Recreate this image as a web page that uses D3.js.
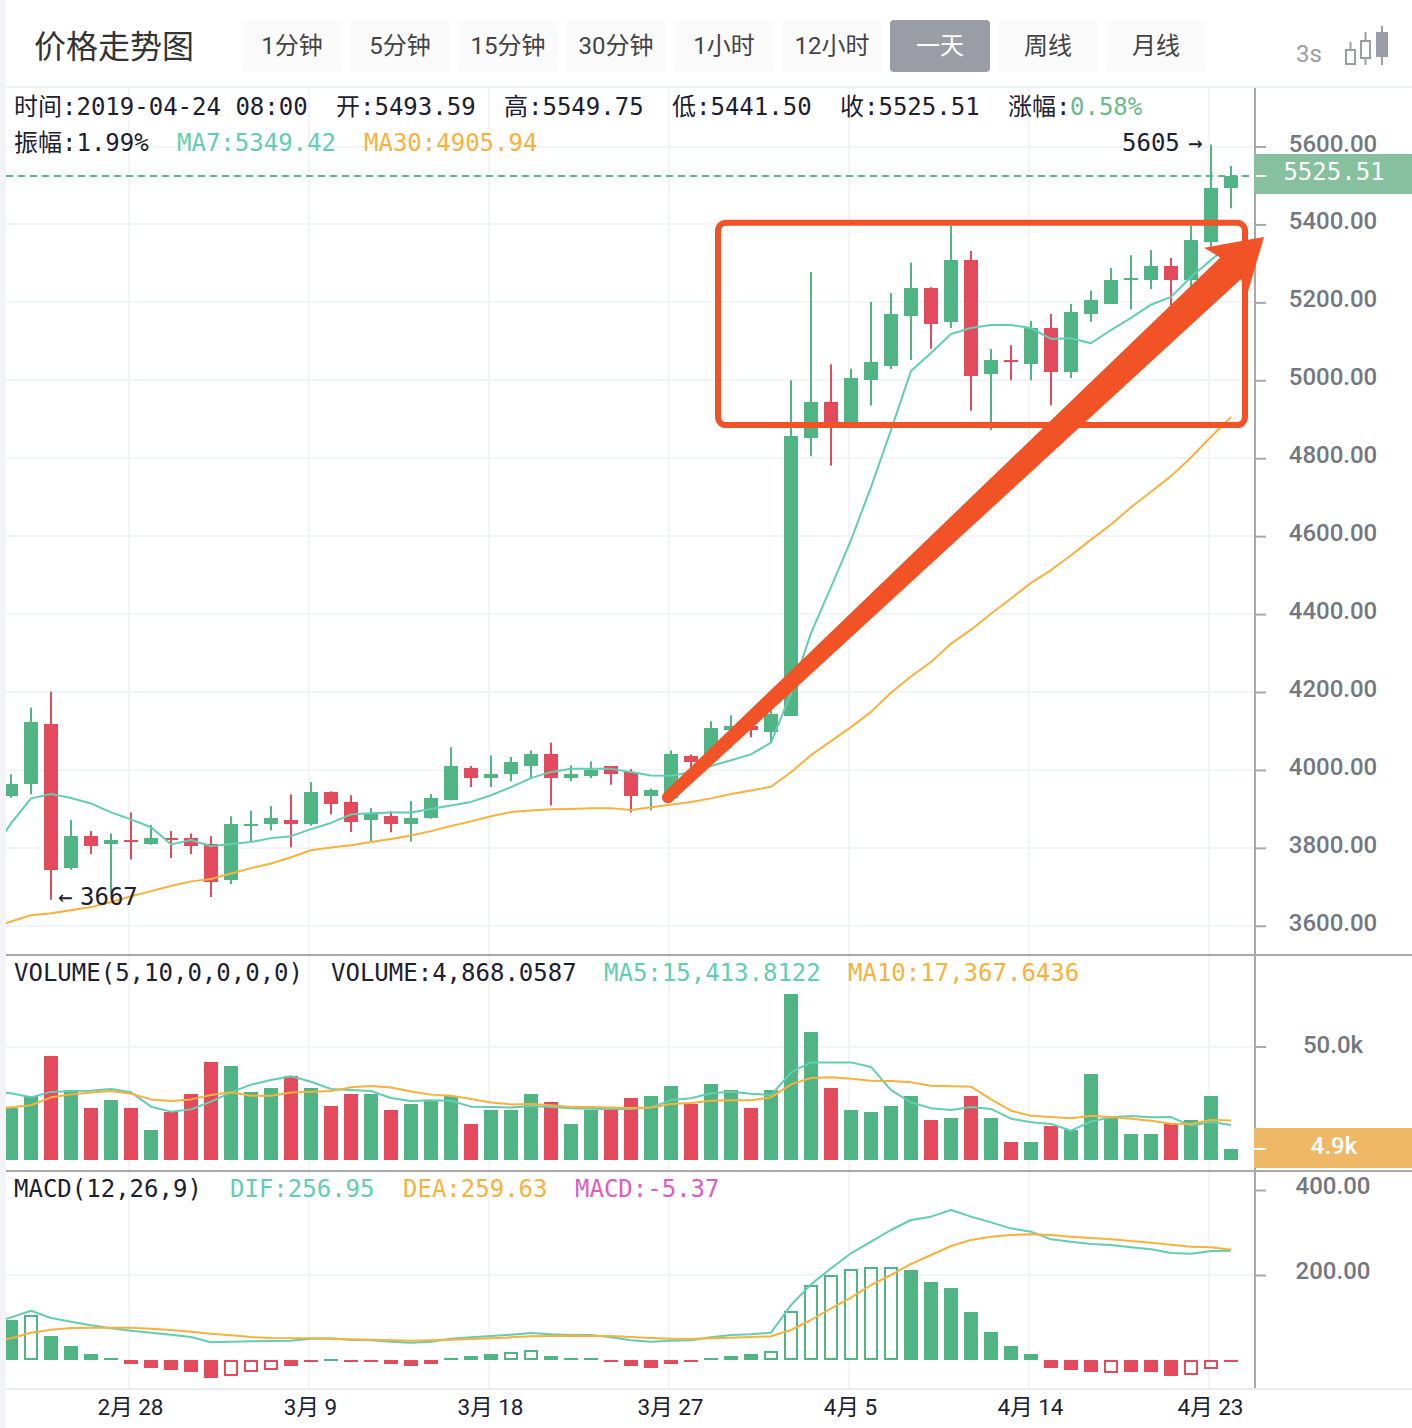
<!DOCTYPE html>
<html><head><meta charset="utf-8">
<script src="https://cdn.jsdelivr.net/npm/d3@7"></script>
<style>
html,body{margin:0;padding:0;background:#fff}
svg{display:block}
.mono{font-family:"DejaVu Sans Mono","Noto Sans CJK SC",monospace;font-size:24px;fill:#1c2030}
.sans{font-family:Roboto,"Noto Sans CJK SC",sans-serif}
</style></head><body><svg id="c" width="1412" height="1428"></svg>
<script>
// ---------- data ----------
const opens=[3932,3963,4117,3748,3830,3809,3820,3809,3825,3825,3809,3717,3855,3861,3871,3861,3943,3917,3871,3881,3861,3876,3922,4004,3979,3989,4010,4040,3979,3984,4010,3994,3932,3927,4035,4035,4102,4112,4097,4138,4852,4944,4893,5000,5036,5165,5237,5149,5309,5016,5052,5042,5134,5021,5170,5196,5257,5257,5293,5257,5355,5493.59];
const closes=[3963,4122,3743,3830,3804,3820,3814,3825,3820,3804,3712,3861,3861,3876,3861,3943,3912,3866,3886,3861,3876,3927,4010,3979,3989,4020,4040,3979,3989,3999,3989,3932,3948,4040,4020,4107,4112,4102,4143,4857,4944,4893,5006,5047,5170,5237,5144,5309,5011,5052,5047,5134,5021,5175,5206,5257,5262,5293,5257,5360,5493.59,5525.51];
const highs=[3989,4160,4201,3871,3843,3837,3891,3859,3843,3837,3830,3881,3895,3907,3937,3969,3945,3935,3902,3894,3920,3938,4058,4010,4037,4033,4050,4070,4012,4022,4010,4002,3952,4050,4040,4125,4140,4128,4158,5000,5278,5041,5030,5201,5224,5302,5239,5396,5332,5080,5090,5152,5170,5196,5230,5288,5321,5334,5314,5396,5605,5549.75];
const lows=[3929,3938,3667,3744,3784,3683,3770,3808,3774,3784,3674,3707,3816,3845,3801,3857,3886,3841,3816,3840,3816,3875,3922,3956,3956,3971,3979,3909,3971,3979,3962,3891,3896,3922,4004,4025,4056,4084,4071,4138,4805,4781,4889,4935,5029,5052,5081,5134,4922,4872,5000,5000,4936,5006,5150,5196,5182,5234,5193,5239,5334,5441.5];
const volumes=[22.9,28.2,45.8,30.8,22.9,26.4,22.9,13.2,21.1,29.1,43.2,41.4,30,31.7,37,31.7,23.8,29.1,29.1,22,24.7,26.4,28.2,15.9,22,22,29.1,25.6,15.9,22,22,27.3,28.2,32.6,24.7,33.5,30.8,22.9,30.8,73.1,56.4,31.7,22,21.1,23.8,28.2,17.6,18.5,28.2,18.5,7.9,7.9,15,13.2,37.9,18.5,11.5,11.5,15.9,17.6,28.2,4.868];
// the line series start one day before the first visible candle
const ma7=[3786,3863,3927,3938,3928,3914,3891,3873,3853,3809,3820,3804,3810,3815,3825,3830,3848,3864,3886,3889,3891,3891,3900,3909,3918,3935,3956,3979,3995,4003,4003,4003,3995,3986,3985,3994,4010,4025,4040,4070,4197,4351,4469,4590,4726,4872,5024,5070,5119,5134,5142,5142,5134,5106,5108,5095,5129,5160,5194,5214,5265,5309,5349.42];
const ma30=[3593,3611,3627,3632,3640,3648,3661,3676,3689,3702,3714,3720,3734,3748,3760,3776,3794,3801,3807,3815,3823,3832,3843,3856,3868,3881,3892,3896,3899,3900,3902,3902,3897,3904,3911,3918,3927,3938,3947,3957,3994,4038,4074,4110,4149,4198,4240,4277,4324,4360,4401,4440,4480,4513,4551,4591,4630,4674,4714,4754,4802,4855,4905.94];
const volMa5=[30.4,29.4,27.6,30,30.4,30.5,31.3,29.8,23.5,21.3,22.3,25.7,29.8,33.2,35.2,36.9,34.5,31.3,30.8,30.4,27.3,26,26.3,26.1,23.5,23.3,23.1,23.8,23.3,22.8,22.6,22.5,22.5,23.2,26.4,27.2,29.4,30.1,29.2,28.6,38.6,43,43,43,41,30.8,25.4,22.8,22,23.3,22.5,18.2,16.6,15.9,12.9,17,18.8,19.4,18.8,18.9,15.1,16.7,15.41];
const volMa10=[22.3,23.2,24.1,27.6,28.9,29.7,30.4,29.2,26.7,26,26.7,28.6,29.8,28.3,28.3,29.7,30.1,30.4,32,32.6,31.9,30.2,28.8,28.3,26.9,25.3,24.5,24.7,24.1,23.3,23.3,23.1,22.9,23.1,24.7,25.1,26.1,26.3,26.3,27.6,33.3,36.1,36.4,35.8,34.9,34.8,34.2,32.7,32.5,32.3,26.7,21.7,19.5,18.9,18.4,19.5,18.8,18.2,17.3,16,15.9,17.6,17.37];
const macdHist=[94.1,106.7,56.5,32.9,14.1,4.7,-9.4,-18.8,-23.5,-28.2,-42.4,-37.6,-28.2,-23.5,-14.1,-4.7,3.1,-4.7,-4.7,-9.4,-14.1,-9.4,3.9,9.4,14.1,18.8,23.5,9.4,3.9,3.9,-4.7,-14.1,-19,-9.4,-4.7,4.7,9.4,14.1,22,116,177,200.8,215,219.6,219.6,211.8,183.5,169.4,113,65.9,32.9,14.1,-18.8,-23.5,-28.2,-31.4,-28.2,-28.2,-37.6,-36,-22,-5.37];
const hollowDays=[1,11,12,13,25,26,38,39,40,41,42,43,44,55,59,60];
const dif=[85,100.4,116,98.8,90.2,81.6,74.5,69,64.3,59.6,54.1,41.6,43.1,43.9,44.7,45.5,50.2,51,47.1,46.3,43.1,40.8,43.1,50.2,53.3,56.5,59.6,63.5,60.4,58.8,58.8,53.3,46.3,43.1,45.5,46.3,53.3,58.8,60.4,64.3,129.4,178,215.7,251,278.4,305.9,329.4,337.3,352.9,337.3,323.9,309.8,302,283.9,278.4,272.9,270.6,265.1,260.4,251.8,250.2,256.5,256.95];
const dea=[42,51,64.3,71.4,75.3,76.1,76.1,76.1,73.7,70.6,66.7,62,58,54.1,51.8,51,51,49.4,48.6,47.8,46.3,45.5,46.3,47.8,49.4,51,53.3,55.7,56.5,57.3,56.5,56.5,54.1,51.8,50.2,49.4,51,52.5,54.1,55.7,70.6,94.1,121.6,146.7,176.5,200,225.9,247.1,268.2,282.4,290.2,294.1,295.7,294.1,290.2,287.1,283.9,280,276.1,271.4,266.7,265.1,259.63];
const priceTicks=[3600,3800,4000,4200,4400,4600,4800,5000,5200,5400,5600];
const volTicks=[50];
const macdTicks=[200,400];
const dateDays=[6,15,24,33,42,51,60];
const dateLabels=["2月 28","3月 9","3月 18","3月 27","4月 5","4月 14","4月 23"];
const periods=["1分钟","5分钟","15分钟","30分钟","1小时","12小时","一天","周线","月线"];
const activePeriod="一天";
const lastClose=5525.51, lastVolume=4.868, maxDay=60, maxHigh=5605, minDay=2, minLow=3667;
// annotation anchored in chart coordinates: day index, price
const boxDays=[35.35,61.7], boxPrices=[4885,5404];
const arrowFrom=[32.85,3930], arrowTo=[62.65,5368];

// ---------- colours ----------
const UP="#50b485",DOWN="#e34a5c",TEAL="#62cdb0",ORANGE="#f8b13d",GRID="#f2f5f8",AXIS="#a9a9ab",ANN="#f15326";

// ---------- scales ----------
const x=d3.scaleLinear().domain([0,61]).range([11,1231]);
const yP=d3.scaleLinear().domain([3600,5600]).range([925.8,146.5]);
const yV=d3.scaleLinear().domain([0,50]).range([1160,1046.5]);
const yM=d3.scaleLinear().domain([0,400]).range([1360,1190]);
const svg=d3.select("#c");
const L=6,R=1255,T=88,B=1388;
const days=d3.range(opens.length);

svg.append("defs").append("clipPath").attr("id","plot").append("rect")
  .attr("x",L).attr("y",T).attr("width",R-L).attr("height",B-T);

// frame
svg.append("rect").attr("x",0).attr("y",0).attr("width",L).attr("height",1428).attr("fill","#f2f4f7");
svg.append("rect").attr("x",L).attr("y",86).attr("width",1412-L).attr("height",2).attr("fill","#eff2f5");

// gridlines
const g=svg.append("g").attr("clip-path","url(#plot)");
const hLines=[...priceTicks.map(yP),...volTicks.map(yV),yM(200)];
g.selectAll(".h").data(hLines).join("rect").attr("x",L).attr("width",R-L).attr("y",d=>Math.round(d)-1).attr("height",2).attr("fill",GRID);
g.selectAll(".v").data(dateDays).join("rect").attr("x",d=>x(d)-3).attr("width",2).attr("y",T).attr("height",B-T).attr("fill",GRID);

// last price dashed
const lastY=Math.round(yP(lastClose));
g.append("line").attr("x1",L).attr("x2",R).attr("y1",lastY).attr("y2",lastY)
  .attr("stroke","#5fb587").attr("stroke-width",2).attr("stroke-dasharray","7 5");

// candles
const candle=g.append("g");
candle.selectAll(".w").data(days).join("rect")
  .attr("x",i=>x(i)-1).attr("width",2)
  .attr("y",i=>yP(highs[i])).attr("height",i=>yP(lows[i])-yP(highs[i]))
  .attr("fill",i=>closes[i]>=opens[i]?UP:DOWN);
candle.selectAll(".b").data(days).join("rect")
  .attr("x",i=>x(i)-7).attr("width",14)
  .attr("y",i=>Math.round(yP(Math.max(opens[i],closes[i]))))
  .attr("height",i=>Math.max(2,Math.round(yP(Math.min(opens[i],closes[i])))-Math.round(yP(Math.max(opens[i],closes[i])))))
  .attr("fill",i=>closes[i]>=opens[i]?UP:DOWN);

const lineOf=(scale)=>d3.line().x((d,i)=>x(i-1)).y(d=>scale(d));
function drawLine(data,scale,color){
  g.append("path").attr("d",lineOf(scale)(data)).attr("fill","none").attr("stroke",color).attr("stroke-width",2).attr("stroke-linejoin","round");
}
drawLine(ma7,yP,TEAL);
drawLine(ma30,yP,ORANGE);

// volume
g.selectAll(".vb").data(days).join("rect")
  .attr("x",i=>x(i)-7).attr("width",14)
  .attr("y",i=>Math.round(yV(volumes[i]))).attr("height",i=>yV(0)-Math.round(yV(volumes[i])))
  .attr("fill",i=>closes[i]>=opens[i]?UP:DOWN);
drawLine(volMa5,yV,TEAL);
drawLine(volMa10,yV,ORANGE);

// macd
days.forEach(i=>{
  const v=macdHist[i],c=v>=0?UP:DOWN,top=Math.round(yM(Math.max(v,0))),h=Math.max(2,Math.round(Math.abs(yM(v)-yM(0))));
  const hollow=hollowDays.includes(i);
  g.append("rect").attr("x",x(i)-7+(hollow?1:0)).attr("width",hollow?12:14)
    .attr("y",top+(hollow?1:0)).attr("height",hollow?Math.max(0,h-2):h)
    .attr("fill",hollow?"none":c).attr("stroke",hollow?c:"none").attr("stroke-width",hollow?2:0);
});
drawLine(dif,yM,TEAL);
drawLine(dea,yM,ORANGE);

// pane lines and axis
svg.append("rect").attr("x",L).attr("y",954).attr("width",1412-L).attr("height",2).attr("fill",AXIS);
svg.append("rect").attr("x",L).attr("y",1170).attr("width",1412-L).attr("height",2).attr("fill",AXIS);
svg.append("rect").attr("x",L).attr("y",1388).attr("width",1412-L).attr("height",2).attr("fill","#e9edf1");
svg.append("rect").attr("x",1254).attr("y",T).attr("width",2).attr("height",B-T).attr("fill",AXIS);

function rightAxis(scale,ticks,fmt,dy){
  const a=svg.append("g").attr("transform","translate(1256,0)")
    .call(d3.axisRight(scale).tickValues(ticks).tickSize(10).tickFormat(fmt));
  a.select(".domain").remove();
  a.selectAll("line").attr("stroke",AXIS).attr("stroke-width",2);
  a.selectAll("text").attr("x",77).attr("dy",dy).attr("text-anchor","middle")
    .attr("class","sans").style("font-size","24px").style("font-weight",500).style("fill","#737780");
}
rightAxis(yP,priceTicks,d3.format(".2f"),"0.19em");
rightAxis(yV,volTicks,d=>d.toFixed(1)+"k","0.24em");
rightAxis(yM,macdTicks,d3.format(".2f"),"0.16em");

// last price tag
svg.append("rect").attr("x",1254).attr("y",154).attr("width",158).attr("height",40).attr("fill","#86c09e");
svg.append("rect").attr("x",1256).attr("y",lastY-1).attr("width",10).attr("height",2).attr("fill","#fff");
svg.append("text").attr("class","mono").attr("x",1334).attr("y",180).attr("text-anchor","middle").style("fill","#fff").text(lastClose.toFixed(2));
// last volume tag
svg.append("rect").attr("x",1254).attr("y",1128).attr("width",158).attr("height",40).attr("fill","#eeb866");
svg.append("rect").attr("x",1254).attr("y",yV(lastVolume)-1).attr("width",12).attr("height",2).attr("fill","#fff");
svg.append("text").attr("class","sans").attr("x",1334).attr("y",1154).attr("text-anchor","middle")
  .style("font-size","24px").style("font-weight",500).style("fill","#fff").text(lastVolume.toFixed(1)+"k");

// date axis
const dateAxis=svg.append("g").attr("transform","translate(0,1390)")
  .call(d3.axisBottom(x).tickValues(dateDays).tickSize(0).tickFormat((d,i)=>dateLabels[i]));
dateAxis.select(".domain").remove();
dateAxis.selectAll("text").attr("class","sans").attr("y",16).attr("dy","0.42em").attr("dx",-1)
  .style("font-size","22.5px").style("fill","#1c2030");

// legends
function legend(y,items){
  items.forEach(([t,px,c])=>{
    const e=svg.append("text").attr("class","mono").attr("x",px).attr("y",y).text(t);
    if(c)e.style("fill",c);
  });
}
legend(115,[["时间:2019-04-24 08:00",14],["开:5493.59",336],["高:5549.75",504],["低:5441.50",672],["收:5525.51",840],["涨幅:",1008],["0.58%",1070,"#6cb98c"]]);
legend(151,[["振幅:1.99%",14],["MA7:5349.42",177,TEAL],["MA30:4905.94",364,ORANGE]]);
legend(981,[["VOLUME(5,10,0,0,0,0)",14],["VOLUME:4,868.0587",331],["MA5:15,413.8122",604,TEAL],["MA10:17,367.6436",848,ORANGE]]);
legend(1197,[["MACD(12,26,9)",14],["DIF:256.95",230,TEAL],["DEA:259.63",403,ORANGE],["MACD:-5.37",575,"#e05bc0"]]);

// extreme labels
svg.append("text").attr("class","mono").attr("x",x(minDay)+7).attr("y",yP(minLow)+5).text("←");
svg.append("text").attr("class","mono").attr("x",x(minDay)+29).attr("y",yP(minLow)+5).text(String(minLow));
svg.append("text").attr("class","mono").attr("x",x(maxDay)-89).attr("y",yP(maxHigh)+6).text(String(maxHigh));
svg.append("text").attr("class","mono").attr("x",x(maxDay)-23).attr("y",yP(maxHigh)+6).text("→");

// header
svg.append("text").attr("x",34).attr("y",58).style("font-family",'"Noto Sans CJK SC"').style("font-size","32px").style("fill","#333").text("价格走势图");
const bx=d3.scaleBand().domain(periods).range([242,1214]).paddingInner(0.0);
const btn=svg.append("g").selectAll("g").data(periods).join("g").attr("transform",d=>`translate(${bx(d)},20)`);
btn.append("rect").attr("width",100).attr("height",52).attr("rx",4).attr("fill",d=>d===activePeriod?"#9a9ca6":"#fafafa");
btn.append("text").attr("x",50).attr("y",34).attr("text-anchor","middle").attr("class","sans")
  .style("font-size","24px").style("fill",d=>d===activePeriod?"#fff":"#444").text(d=>d);
svg.append("text").attr("x",1296).attr("y",62).attr("class","sans").style("font-size","24px").style("fill","#9a9ca6").text("3s");
const ic=svg.append("g").attr("fill","none").attr("stroke","#9a9ca6").attr("stroke-width",2);
ic.append("rect").attr("x",1346).attr("y",50).attr("width",9).attr("height",14);
ic.append("line").attr("x1",1350.5).attr("x2",1350.5).attr("y1",42).attr("y2",50);
ic.append("rect").attr("x",1361).attr("y",41).attr("width",9).attr("height",17);
ic.append("line").attr("x1",1365.5).attr("x2",1365.5).attr("y1",32).attr("y2",41);
ic.append("line").attr("x1",1365.5).attr("x2",1365.5).attr("y1",58).attr("y2",65);
svg.append("rect").attr("x",1376).attr("y",32).attr("width",12).attr("height",25).attr("fill","#9a9ca6");
svg.append("rect").attr("x",1381).attr("y",26).attr("width",2).attr("height",39).attr("fill","#9a9ca6");

// annotation: rounded box and arrow
svg.append("rect")
  .attr("x",x(boxDays[0])).attr("width",x(boxDays[1])-x(boxDays[0]))
  .attr("y",yP(boxPrices[1])).attr("height",yP(boxPrices[0])-yP(boxPrices[1]))
  .attr("rx",8).attr("fill","none").attr("stroke",ANN).attr("stroke-width",6);
const ax0=x(arrowFrom[0]),ay0=yP(arrowFrom[1]),ax1=x(arrowTo[0]),ay1=yP(arrowTo[1]);
const len=Math.hypot(ax1-ax0,ay1-ay0),ux=(ax1-ax0)/len,uy=(ay1-ay0)/len,nx=-uy,ny=ux;
const pt=(along,off)=>[ax1+ux*along+nx*off,ay1+uy*along+ny*off];
const head=[pt(-51,-33),pt(0,0),pt(-51,30),pt(-46,15)];
const tail=[[ax0+nx*6,ay0+ny*6],[ax0-nx*6,ay0-ny*6]];
const poly=[tail[1],pt(-46,-15),...head,tail[0]];
svg.append("polygon").attr("points",poly.map(p=>p.join(",")).join(" ")).attr("fill",ANN);
svg.append("circle").attr("cx",ax0).attr("cy",ay0).attr("r",6).attr("fill",ANN);
</script></body></html>
